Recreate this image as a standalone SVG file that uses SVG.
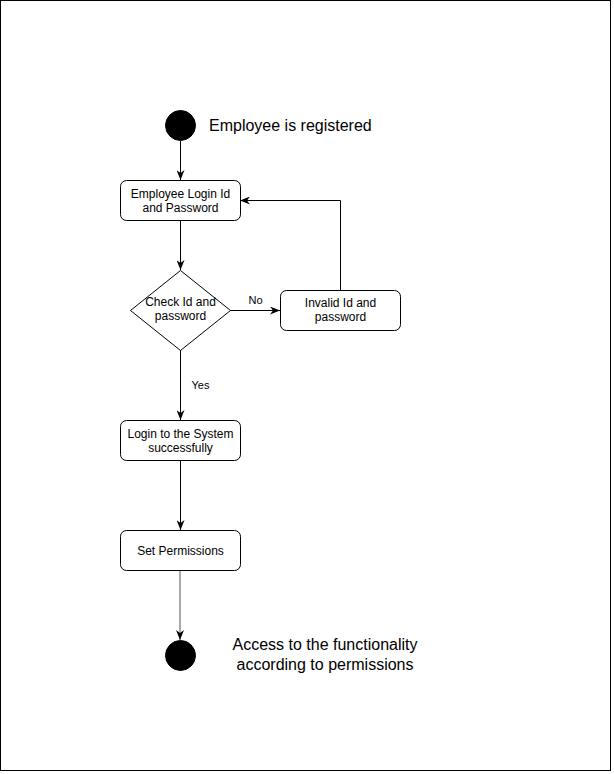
<svg xmlns="http://www.w3.org/2000/svg" width="614" height="774" viewBox="0 0 614 774">
  <defs>
    <marker id="arr" viewBox="0 0 10 8" markerWidth="10" markerHeight="8" refX="10" refY="4" markerUnits="userSpaceOnUse" orient="auto">
      <path d="M0,0 L10,4 L0,8 L3,4 Z" fill="#000"/>
    </marker>
    <style>
      .box { fill: #fff; stroke: #000; stroke-width: 1; }
      .dot { fill: #000; stroke: #000; stroke-width: 1; }
      .t12 { font-family: "Liberation Sans", Arial, sans-serif; font-size: 12px; fill: #000; text-anchor: middle; }
      .t11 { font-family: "Liberation Sans", Arial, sans-serif; font-size: 11px; fill: #000; text-anchor: middle; }
      .t16 { font-family: "Liberation Sans", Arial, sans-serif; font-size: 16px; fill: #000; }
      .edge { fill: none; stroke: #000; stroke-width: 1; marker-end: url(#arr); }
    </style>
  </defs>
  <rect x="0.5" y="0.5" width="610" height="770" fill="#fff" stroke="#000" stroke-width="1"/>

  <g id="connectors">
    <path class="edge" d="M180.5,141 L180.5,180"/>
    <path class="edge" d="M180.5,220 L180.5,270"/>
    <path class="edge" d="M230,310.5 L280,310.5"/>
    <path class="edge" d="M340.5,290 L340.5,200.5 L240,200.5"/>
    <path class="edge" d="M180.5,350 L180.5,420"/>
    <path class="edge" d="M180.5,460 L180.5,530"/>
    <path class="edge" d="M180,570 L180,640" style="stroke:#555"/>
    <text class="t11" x="255.5" y="304">No</text>
    <text class="t11" x="200.5" y="389">Yes</text>
  </g>

  <g id="start">
    <circle class="dot" cx="180.5" cy="125.5" r="15"/>
    <text class="t16" x="209" y="131">Employee is registered</text>
  </g>

  <g id="login-input">
    <rect class="box" x="120.5" y="180.5" width="120" height="40" rx="6"/>
    <text class="t12" x="180.5" y="197.5">Employee Login Id</text>
    <text class="t12" x="180.5" y="212">and Password</text>
  </g>

  <g id="check">
    <path class="box" d="M180.5,270.5 L230.5,310.5 L180.5,350.5 L130.5,310.5 Z"/>
    <text class="t12" x="180.5" y="306">Check Id and</text>
    <text class="t12" x="180.5" y="320">password</text>
  </g>

  <g id="invalid">
    <rect class="box" x="280.5" y="290.5" width="120" height="40" rx="6"/>
    <text class="t12" x="340.5" y="306.5">Invalid Id and</text>
    <text class="t12" x="340.5" y="321">password</text>
  </g>

  <g id="login-success">
    <rect class="box" x="120.5" y="420.5" width="120" height="40" rx="6"/>
    <text class="t12" x="180.5" y="437.5">Login to the System</text>
    <text class="t12" x="180.5" y="452">successfully</text>
  </g>

  <g id="permissions">
    <rect class="box" x="120.5" y="530.5" width="120" height="40" rx="6"/>
    <text class="t12" x="180.5" y="554.5">Set Permissions</text>
  </g>

  <g id="end">
    <circle class="dot" cx="180.5" cy="655.5" r="15"/>
    <text class="t16" x="325" y="650" text-anchor="middle">Access to the functionality</text>
    <text class="t16" x="325" y="670" text-anchor="middle">according to permissions</text>
  </g>
</svg>
